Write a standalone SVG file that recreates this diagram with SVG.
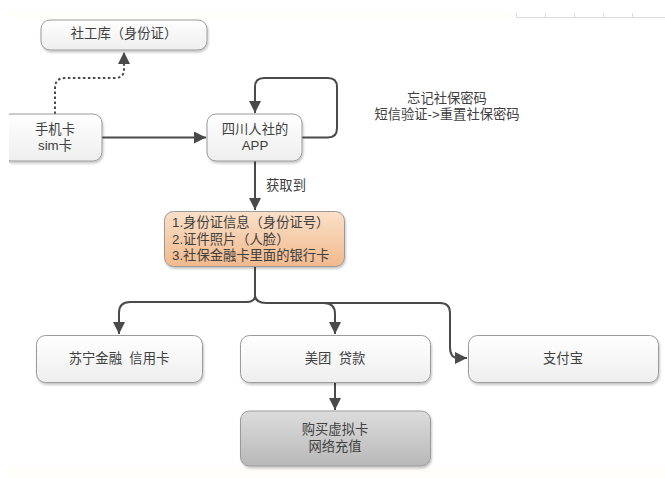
<svg xmlns="http://www.w3.org/2000/svg" width="665" height="478" viewBox="0 0 665 478">
<style>
text{font-family:"Liberation Sans","Noto Sans CJK SC",sans-serif;font-size:13.300px;fill:#404040;text-anchor:middle;white-space:pre}
.l{text-anchor:start}
.n{stroke:#9a9a9a;stroke-width:1;fill:url(#w);filter:url(#s)}
.c{fill:none;stroke:#4a4a4a;stroke-width:2}
.r{stroke:#dcdcdc;stroke-width:1;fill:none}
</style>
<defs>
<linearGradient id="w" x1="0" y1="0" x2="0" y2="1"><stop offset="0" stop-color="#ffffff"/><stop offset="1" stop-color="#eeeeee"/></linearGradient>
<linearGradient id="o" x1="0" y1="0" x2="0" y2="1"><stop offset="0" stop-color="#fae0c8"/><stop offset="1" stop-color="#f2b98c"/></linearGradient>
<linearGradient id="g" x1="0" y1="0" x2="0" y2="1"><stop offset="0" stop-color="#dcdcdc"/><stop offset="1" stop-color="#b8b8b8"/></linearGradient>
<filter id="s" x="-10%" y="-15%" width="120%" height="135%"><feDropShadow dx="1" dy="2" stdDeviation="1.200" flood-color="#000" flood-opacity="0.220"/></filter>
<marker id="a" markerUnits="userSpaceOnUse" markerWidth="13" markerHeight="12" refX="12" refY="6" orient="auto"><path d="M0,0L12,6L0,12Z" fill="#4a4a4a"/></marker>
<clipPath id="k"><rect x="9" y="100" width="110" height="75"/></clipPath>
</defs>
<rect x="9" y="13" width="507" height="4" fill="#fffef9"/>
<rect x="9" y="468" width="656" height="10" fill="#fffef9"/>
<path class="r" d="M516.500 13V17.500H665M545.500 13V17M574.500 13V17M603.500 13V17M632.500 13V17"/>
<g id="connectors">
<path class="c" stroke-dasharray="2.500 2.500" d="M55 114V88Q55 78 65 78H114Q124 78 124 70V52" marker-end="url(#a)"/>
<path class="c" d="M102 137.500H206" marker-end="url(#a)"/>
<path class="c" d="M302 137.500H328Q337 137.500 337 128V87Q337 78 328 78H264Q255 78 255 87V113" marker-end="url(#a)"/>
<path class="c" d="M255 161V210" marker-end="url(#a)"/>
<path class="c" d="M255 266V297Q254 302 246 302H130Q119 302 119 313V334" marker-end="url(#a)"/>
<path class="c" d="M255 296Q256 303 266 303H324Q335 303 335 314V334" marker-end="url(#a)"/>
<path class="c" d="M300 303H440Q450 303 450 313V347Q450 358 458 358H467" marker-end="url(#a)"/>
<path class="c" d="M335 382V410" marker-end="url(#a)"/>
</g>
<g id="n1"><rect class="n" x="41" y="20" width="166" height="30" rx="9"/><text x="124" y="38">社工库（身份证）</text></g>
<g id="n2"><g clip-path="url(#k)"><rect class="n" x="2" y="114" width="100" height="47" rx="9"/></g><text x="55" y="134">手机卡</text><text x="55" y="150">sim卡</text></g>
<g id="n3"><rect class="n" x="207" y="114" width="95" height="47" rx="9"/><text x="255" y="134">四川人社的</text><text x="255" y="150">APP</text></g>
<g id="n4"><rect class="n" style="fill:url(#o)" x="164.500" y="211.500" width="180" height="55" rx="9"/><text class="l" x="172" y="227">1.身份证信息（身份证号）</text><text class="l" x="172" y="244">2.证件照片（人脸）</text><text class="l" x="172" y="260">3.社保金融卡里面的银行卡</text></g>
<g id="n5"><rect class="n" x="36.500" y="335.500" width="166" height="47" rx="9"/><text x="119" y="363">苏宁金融  信用卡</text></g>
<g id="n6"><rect class="n" x="240.500" y="335.500" width="190" height="47" rx="9"/><text x="335" y="363">美团  贷款</text></g>
<g id="n7"><rect class="n" x="468.500" y="335.500" width="190" height="47" rx="9"/><text x="563" y="363">支付宝</text></g>
<g id="n8"><rect class="n" style="fill:url(#g)" x="240.500" y="411" width="190" height="55" rx="9"/><text x="335" y="434">购买虚拟卡</text><text x="335" y="451">网络充值</text></g>
<text x="286" y="190">获取到</text>
<text x="447" y="103">忘记社保密码</text>
<text x="447" y="119">短信验证-&gt;重置社保密码</text>
</svg>
